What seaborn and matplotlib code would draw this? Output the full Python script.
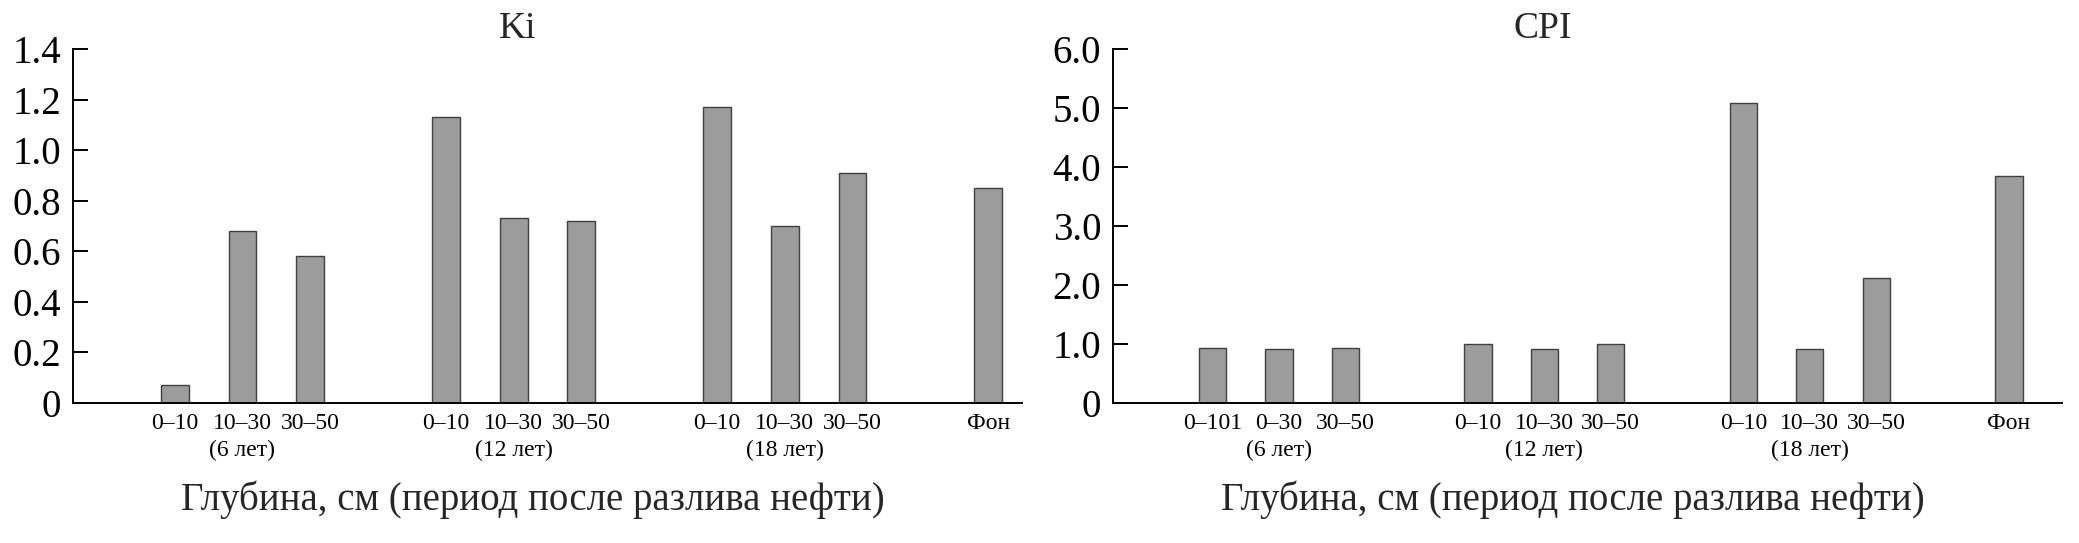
import numpy as np
import matplotlib
matplotlib.use("Agg")
import matplotlib.pyplot as plt
import seaborn as sns

sns.set_theme(style="white")
plt.rcParams['font.family'] = ['Liberation Serif', 'DejaVu Serif']

# data
periods = ["(6 лет)", "(12 лет)", "(18 лет)"]
depths_ki = ["0–10", "10–30", "30–50"]
depths_cpi = [["0–101", "0–30", "30–50"], ["0–10", "10–30", "30–50"], ["0–10", "10–30", "30–50"]]
background_label = "Фон"

ki_values = [0.07, 0.68, 0.58, 1.13, 0.73, 0.72, 1.17, 0.70, 0.91]
ki_background = 0.85
cpi_values = [0.93, 0.91, 0.94, 1.00, 0.91, 1.00, 5.09, 0.92, 2.12]
cpi_background = 3.84

xlabel = "Глубина, см (период после разлива нефти)"
BAR_COLOR = "#9c9c9c"


def slots(n_groups, per_group):
    # each group takes per_group slots plus one empty slot in front
    pos = []
    for g in range(n_groups):
        for i in range(per_group):
            pos.append(g * (per_group + 1) + 1 + i)
    return pos, n_groups * (per_group + 1) + 1


def draw(ax, values, background, labels, title, ymax, step, right, title_x):
    pos, bg_pos = slots(len(periods), 3)
    x = pos + [bg_pos]
    y = values + [background]
    sns.barplot(x=x, y=y, native_scale=True, width=0.41, color=BAR_COLOR,
                edgecolor="#404040", linewidth=1.0, saturation=1, errorbar=None, ax=ax)

    ticklabels = []
    for g, period in enumerate(periods):
        for i in range(3):
            lab = labels[g][i]
            if i == 1:
                lab = lab + "\n" + period
            ticklabels.append(lab)
    ticklabels.append(background_label)
    ax.set_xticks(x)
    ax.set_xticklabels(ticklabels, fontsize=17, linespacing=1.4)
    ax.set_xlim(-0.5, right)

    yt = np.arange(0, ymax + step / 2, step)
    ax.set_ylim(0, ymax)
    ax.set_yticks(yt)
    ax.set_yticklabels(["0"] + ["{:.1f}".format(v) for v in yt[1:]], fontsize=28)

    ax.tick_params(axis="y", direction="in", length=10.5, width=1.4, pad=8.5, left=True, colors="black")
    ax.tick_params(axis="x", length=0, pad=7, colors="black")
    for s in ["top", "right"]:
        ax.spines[s].set_visible(False)
    for s in ["left", "bottom"]:
        ax.spines[s].set_color("black")
        ax.spines[s].set_linewidth(1.4)

    ax.set_title(title, fontsize=27, x=title_x, pad=8)
    ax.set_xlabel(xlabel, fontsize=28, labelpad=14, x=0.485)
    ax.set_ylabel("")


fig = plt.figure(figsize=(20.79, 5.43), dpi=100)
ax1 = fig.add_axes([73 / 2079, 1 - 403 / 543, 949 / 2079, 354 / 543])
ax2 = fig.add_axes([1113 / 2079, 1 - 403 / 543, 949 / 2079, 354 / 543])

draw(ax1, ki_values, ki_background, [depths_ki] * 3, "Ki", 1.4, 0.2, 13.5, 0.469)
draw(ax2, cpi_values, cpi_background, depths_cpi, "CPI", 6.0, 1.0, 13.8, 0.453)

fig.savefig("out.png", dpi=100)
